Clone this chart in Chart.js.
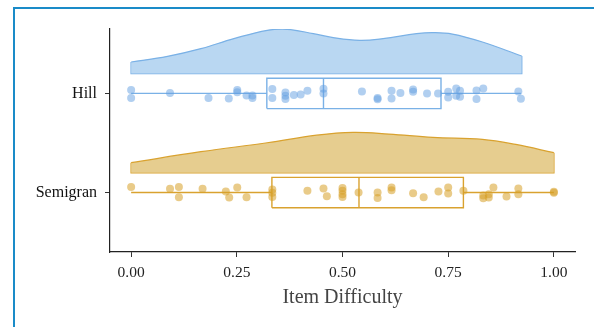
<!DOCTYPE html>
<html>
<head>
<meta charset="utf-8">
<script src="https://cdn.jsdelivr.net/npm/chart.js@4.4.1/dist/chart.umd.min.js"></script>
<style>
  body { margin: 0; background: #fff; }
  #wrap { position: relative; width: 594px; height: 327px; overflow: hidden; }
  #frame { position: absolute; left: 13px; top: 7px; width: 700px; height: 400px;
           border-left: 2px solid #1a8bc8; border-top: 2px solid #1a8bc8; pointer-events: none; }
  canvas { position: absolute; left: 0; top: 0; }
</style>
</head>
<body>
<div id="wrap">
  <canvas id="raincloud" width="594" height="327"></canvas>
  <div id="frame"></div>
</div>
<script>
// groups, bottom to top
const groups = ['Semigran', 'Hill'];
const xTicks = [0, 0.25, 0.5, 0.75, 1];

// item difficulty of each point and its vertical jitter
const hillValues = [0, 0, 0.092, 0.183, 0.231, 0.251, 0.251, 0.273, 0.287, 0.287, 0.334, 0.334,
  0.365, 0.365, 0.365, 0.385, 0.401, 0.417, 0.455, 0.455, 0.546, 0.583, 0.583, 0.616, 0.616,
  0.637, 0.667, 0.667, 0.700, 0.726, 0.75, 0.75, 0.769, 0.769, 0.778, 0.778, 0.817, 0.817,
  0.833, 0.916, 0.922];
const hillJitter = [0.034, -0.047, 0.003, -0.047, -0.05, 0.034, 0.013, -0.02, -0.02, -0.047, 0.044, -0.047,
  0.01, -0.024, -0.057, -0.017, -0.01, 0.027, 0.047, 0, 0.02, -0.047, -0.06, 0.027, -0.05,
  0.003, 0.04, 0.017, 0, 0, 0.017, -0.04, 0.05, -0.024, 0.027, -0.034, 0.03, -0.057,
  0.05, 0.02, -0.054];

const semigranValues = [0, 0.092, 0.113, 0.113, 0.169, 0.224, 0.232, 0.251, 0.273, 0.334, 0.334, 0.334,
  0.417, 0.455, 0.463, 0.5, 0.5, 0.5, 0.5, 0.538, 0.583, 0.583, 0.616, 0.616, 0.667, 0.692,
  0.727, 0.75, 0.75, 0.786, 0.833, 0.833, 0.846, 0.846, 0.857, 0.888, 0.916, 0.916, 1.0, 1.0];
const semigranJitter = [0.057, 0.037, 0.057, -0.047, 0.037, 0.01, -0.05, 0.05, -0.047, 0.03, -0.003, -0.044,
  0.017, 0.04, -0.037, 0.047, 0.017, -0.017, -0.044, 0, 0, -0.054, 0.05, 0.024, -0.007, -0.047,
  0.01, 0.05, -0.01, 0.017, -0.03, -0.057, -0.017, -0.05, 0.05, -0.04, 0.04, -0.017, 0.007, -0.003];

// half violin: x grid and density height
const hillDensityX = [0, 0.086, 0.165, 0.243, 0.322, 0.369, 0.431, 0.478, 0.541, 0.596, 0.675, 0.714, 0.76, 0.831, 0.924];
const hillDensity = [0.117, 0.174, 0.252, 0.353, 0.437, 0.447, 0.403, 0.363, 0.336, 0.353, 0.403, 0.413, 0.399, 0.319, 0.177];
const semigranDensityX = [0, 0.165, 0.322, 0.439, 0.525, 0.61, 0.714, 0.831, 0.91, 1.0];
const semigranDensity = [0.101, 0.212, 0.302, 0.379, 0.407, 0.39, 0.356, 0.336, 0.285, 0.202];

// box: whisker low, q1, median, q3, whisker high
const hillBox = [0, 0.321, 0.455, 0.733, 0.922];
const semigranBox = [0, 0.333, 0.539, 0.786, 1.0];

const HILL_LINE = '#7ab1e6', HILL_FILL = '#b9d7f2', HILL_DOT = 'rgba(100,160,225,0.5)';
const SEMI_LINE = '#d9a22f', SEMI_FILL = '#e6cd8f', SEMI_DOT = 'rgba(215,160,40,0.55)';

const violinOffset = 0.2;
const boxHalf = 0.153;

function seg(points, color, order) {
  return { type: 'scatter', data: points, showLine: true, borderColor: color, borderWidth: 1.4,
    pointRadius: 0, fill: false, tension: 0, order: order };
}

function groupDatasets(yc, values, jitter, dx, dens, box, line, fillCol, dot) {
  const base = yc + violinOffset;
  const sets = [];
  sets.push({ type: 'scatter', data: values.map((v, i) => ({ x: v, y: yc + jitter[i] })),
    backgroundColor: dot, borderWidth: 0, pointRadius: 4, order: 0 });
  const lo = yc - boxHalf, hi = yc + boxHalf;
  sets.push(seg([{x: box[1], y: lo}, {x: box[3], y: lo}, {x: box[3], y: hi}, {x: box[1], y: hi}, {x: box[1], y: lo}], line, 1));
  sets.push(seg([{x: box[2], y: lo}, {x: box[2], y: hi}], line, 1));
  sets.push(seg([{x: box[0], y: yc}, {x: box[1], y: yc}], line, 1));
  sets.push(seg([{x: box[3], y: yc}, {x: box[4], y: yc}], line, 1));
  sets.push({ type: 'scatter', data: dx.map((x, i) => ({ x: x, y: base + dens[i] })), showLine: true,
    borderColor: line, borderWidth: 1.2, backgroundColor: fillCol, pointRadius: 0,
    fill: { value: base }, tension: 0.4, order: 2 });
  const last = dx.length - 1;
  sets.push(seg([{x: dx[0], y: base + dens[0]}, {x: dx[0], y: base}, {x: dx[last], y: base}, {x: dx[last], y: base + dens[last]}], line, 2));
  return sets;
}

const datasets = [].concat(
  groupDatasets(2, hillValues, hillJitter, hillDensityX, hillDensity, hillBox, HILL_LINE, HILL_FILL, HILL_DOT),
  groupDatasets(1, semigranValues, semigranJitter, semigranDensityX, semigranDensity, semigranBox, SEMI_LINE, SEMI_FILL, SEMI_DOT)
);

const serif = '"Liberation Serif", "Times New Roman", serif';

new Chart(document.getElementById('raincloud'), {
  type: 'scatter',
  data: { datasets: datasets },
  options: {
    responsive: false,
    animation: false,
    layout: { padding: { left: 0, top: 29, right: 19, bottom: 0 } },
    plugins: { legend: { display: false }, tooltip: { enabled: false } },
    scales: {
      x: {
        type: 'linear', min: -0.05, max: 1.05,
        afterBuildTicks: (s) => { s.ticks = xTicks.map(v => ({ value: v })); },
        afterFit: (s) => { s.height = 75; },
        ticks: { color: '#222', font: { family: serif, size: 15.5 }, padding: 6.5,
          callback: (v) => Number(v).toFixed(2) },
        grid: { display: true, drawOnChartArea: false, drawTicks: true, tickLength: 5, color: '#333', tickWidth: 1 },
        border: { display: true, color: '#222', width: 1.2 },
        title: { display: true, text: 'Item Difficulty', color: '#444',
          font: { family: serif, size: 20 }, padding: { top: 0, bottom: 17.5 } }
      },
      y: {
        type: 'linear', min: 0.4, max: 2.65,
        afterBuildTicks: (s) => { s.ticks = groups.map((g, i) => ({ value: i + 1 })); },
        afterFit: (s) => { s.width = 110; },
        ticks: { color: '#111', font: { family: serif, size: 16 }, padding: 8,
          callback: (v) => groups[Math.round(v) - 1] },
        grid: { display: true, drawOnChartArea: false, drawTicks: true, tickLength: 5, color: '#333', tickWidth: 1 },
        border: { display: true, color: '#222', width: 1.2 }
      }
    }
  }
});
</script>
</body>
</html>
